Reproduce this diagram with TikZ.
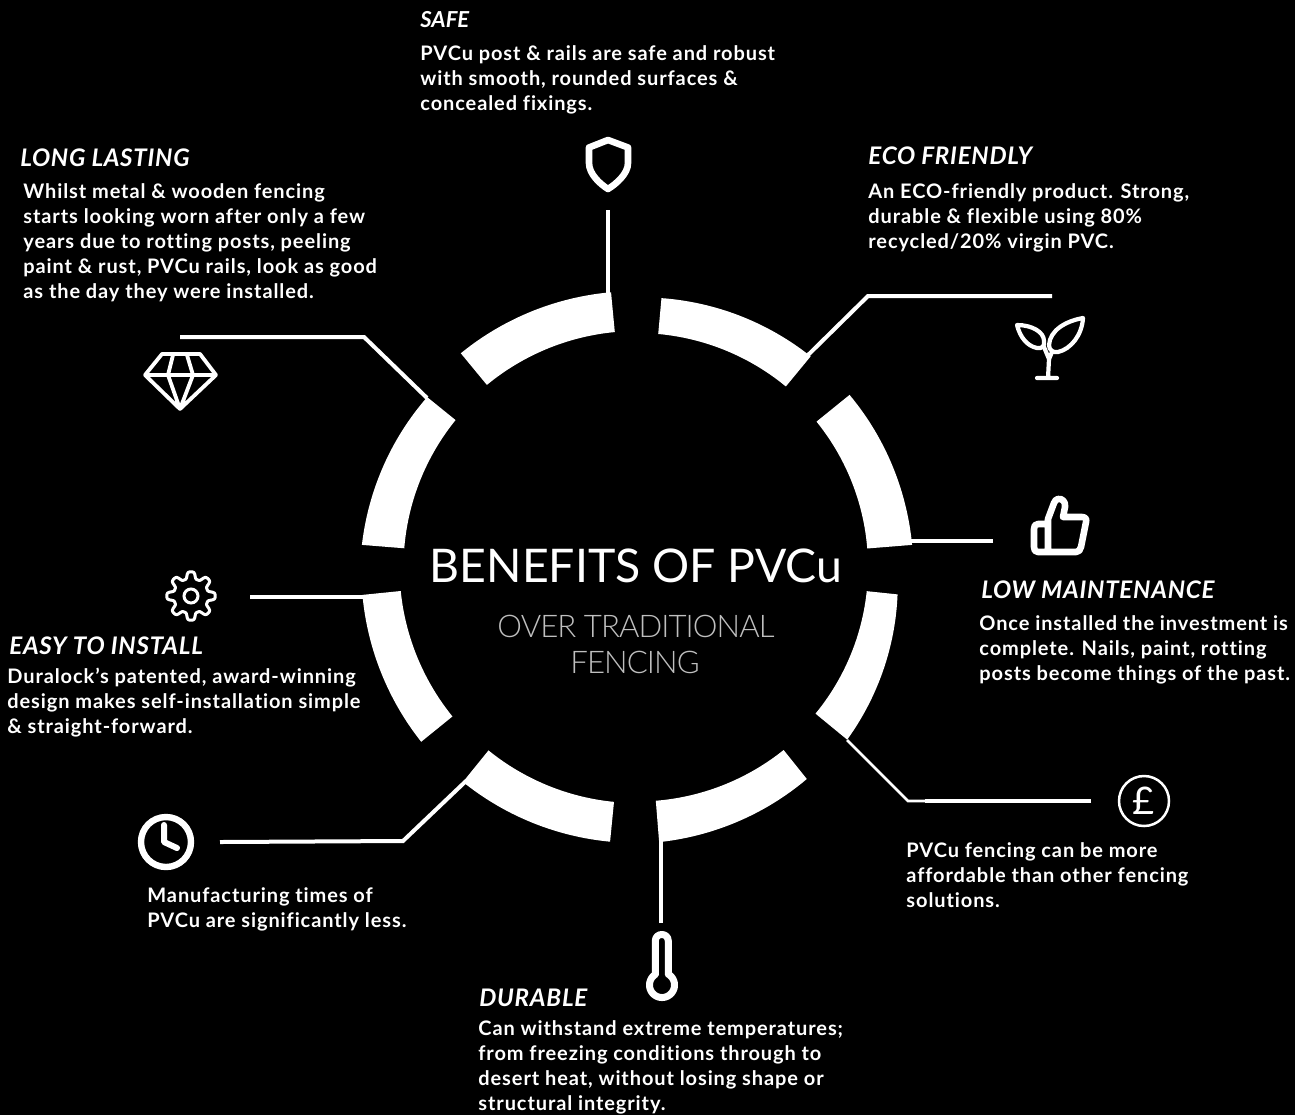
\documentclass[tikz,border=0pt]{standalone}
\usepackage{fontspec}
\setmainfont{Lato}
\newfontfamily\lightfont[LetterSpace=-3]{Lato Light}
\newfontfamily\bodyfont[LetterSpace=4.5,Ligatures=NoCommon]{Lato}
\newfontfamily\headfont[LetterSpace=3,Ligatures=NoCommon]{Lato}
\newcommand{\ringseg}[5]{%
  \fill[white] plot[domain=#1:#2,samples=40] ({637+(#3+(#4-#3)*(\x-#1)/(#2-#1))*cos(\x)},{567-(#3+(#4-#3)*(\x-#1)/(#2-#1))*sin(\x)})
   -- plot[domain=#2:#1,samples=40] ({637+#5*cos(\x)},{567-#5*sin(\x)}) -- cycle;}
\tikzset{
  link/.style={draw=white,line width=2pt,line join=miter},
  thinlink/.style={draw=white,line width=1.4pt},
  icon/.style={draw=white,line join=round,line cap=round},
  head/.style={text=white,inner sep=0pt,anchor=base west,font=\fontsize{12.1}{13}\selectfont\headfont\bfseries\itshape},
  body/.style={text=white,inner sep=0pt,anchor=north west,align=left,
    font=\fontsize{10}{12.5}\selectfont\bodyfont\bfseries,execute at begin node={\strut}},
  subt/.style={text=black!25!white,inner sep=0pt,anchor=base,font=\fontsize{15.6}{18}\selectfont\lightfont},
}
\begin{document}
\begin{tikzpicture}[x=0.5pt,y=-0.5pt]
\useasboundingbox[fill=black] (0,0) rectangle (1295,1115);
% ring
\ringseg{95.4}{129.5}{276}{277}{236}
\ringseg{50.5}{84.8}{273}{270}{234}
\ringseg{4.6}{39}{276}{273.5}{231}
\ringseg{-39.4}{-6}{272}{262}{231}
\ringseg{-85.4}{-51.3}{276}{271.6}{234.5}
\ringseg{231}{264.4}{276.6}{276}{236}
\ringseg{185.8}{219}{276}{277.7}{237.5}
\ringseg{141}{175.4}{270}{276}{233.5}
% connector points
\coordinate (safeA) at (608,210); \coordinate (safeB) at (608,294);
\coordinate (ecoA) at (1052,296); \coordinate (ecoB) at (868,296); \coordinate (ecoC) at (806,357);
\coordinate (lowA) at (993,541); \coordinate (lowB) at (908,541);
\coordinate (payA) at (1091,801); \coordinate (payB) at (925,801); \coordinate (payC) at (908,801); \coordinate (payD) at (847,740);
\coordinate (durA) at (661,923); \coordinate (durB) at (661,840);
\coordinate (timeA) at (220,842); \coordinate (timeB) at (403,841); \coordinate (timeC) at (466,781);
\coordinate (easyA) at (250,597); \coordinate (easyB) at (364,597);
\coordinate (longA) at (180,337); \coordinate (longB) at (364,337); \coordinate (longC) at (427,398);
\draw[link] (safeA) -- (safeB);
\draw[link] (ecoA) -- (ecoB) -- (ecoC);
\draw[link] (lowA) -- (lowB);
\draw[link] (payA) -- (payB);
\draw[thinlink] (payB) -- (payC) -- (payD);
\draw[link] (durA) -- (durB);
\draw[link] (timeA) -- (timeB) -- (timeC);
\draw[link] (easyA) -- (easyB);
\draw[link] (longA) -- (longB) -- (longC);
% shield
\draw[icon,line width=3.3pt] (608,140) -- (589,147.5) -- (589,163) .. controls (589,174) and (600,184) .. (608,189) .. controls (616,184) and (628,174) .. (628,163) -- (628,147.5) -- cycle;
% plant
\draw[icon,line width=2.1pt] (1037,378) -- (1057,378) (1048,378) -- (1049,359) -- (1044,347);
\draw[icon,line width=2.1pt] (1017,325) .. controls (1032,325) and (1044,332) .. (1044,341) .. controls (1045,346) and (1042,349) .. (1037,348) .. controls (1027,346) and (1020,337) .. (1017,325) -- cycle;
\draw[icon,line width=2.1pt] (1083,318) .. controls (1066,321) and (1050,330) .. (1049,345) .. controls (1049,350) and (1053,353) .. (1058,352) .. controls (1071,349) and (1082,335) .. (1083,318) -- cycle;
\draw[icon,line width=2.1pt] (1049,359) -- (1052,352);
% thumb
\draw[icon,line width=3.3pt] (1048,524) -- (1038,524) .. controls (1035,524) and (1034,526) .. (1034,529) -- (1034,547) .. controls (1034,550) and (1035,552) .. (1038,552) -- (1076,552) .. controls (1079,552) and (1080,550) .. (1081,547) -- (1086,522) .. controls (1087,519) and (1085,517) .. (1082,517) -- (1063,517) -- (1065,507) .. controls (1066,502) and (1062,498) .. (1058,499) .. controls (1056,499) and (1055,501) .. (1054,503) -- (1048,519) -- (1048,552);
% diamond
\draw[icon,line width=1.9pt] (162,354) -- (200,354) -- (216,375) -- (180,409) -- (145,375) -- cycle (145,375) -- (216,375) (173,355) -- (168,375) -- (180,409) -- (193,375) -- (187,355);
% gear
\draw[icon,line width=1.5pt] plot[domain=0:360,samples=145,smooth] ({191+(20.8+3.4*tanh(2*cos(8*\x))/0.964)*cos(\x+90)},{596-(20.8+3.4*tanh(2*cos(8*\x))/0.964)*sin(\x+90)}) -- cycle;
\node[draw=white,line width=1.5pt,circle,minimum size=7pt,inner sep=0pt] (gearHub) at (191,596) {};
% clock
\node[draw=white,line width=3.2pt,circle,minimum size=25pt,inner sep=0pt] (clockFace) at (166,842) {};
\draw[icon,line width=3pt] (164,825) -- (164,842) -- (177,848);
% thermometer
\draw[icon,line width=3.5pt] (668.3,974.3) -- (668.3,941) .. controls (668.3,932.3) and (655.3,932.3) .. (655.3,941) -- (655.3,974.3) -- plot[domain=122:418,samples=50] ({662+12.5*cos(\x)},{985-12.5*sin(\x)});
% pound
\node[draw=white,line width=1.25pt,circle,minimum size=25pt,inner sep=0pt,text=white,font=\fontsize{19}{20}\selectfont] (pound) at (1144,801) {£};
% centre
\node[text=white,inner sep=0pt,anchor=base,font=\fontsize{23.2}{26}\selectfont] (title) at (636,582) {BENEFITS OF PVCu};
\node[subt] (sub1) at (636,637) {OVER TRADITIONAL};
\node[subt] (sub2) at (635,673) {FENCING};
% texts
\node[head,font=\fontsize{11}{13}\selectfont\bfseries\itshape] (safeH) at (420,27) {SAFE};
\node[body] (safeT) at (420,45) {PVCu post \& rails are safe and robust\\with smooth, rounded surfaces \&\\concealed fixings.};
\node[head] (longH) at (20,166) {LONG LASTING};
\node[body] (longT) at (23,183) {Whilst metal \& wooden fencing\\starts looking worn after only a few\\years due to rotting posts, peeling\\paint \& rust, PVCu rails, look as good\\as the day they were installed.};
\node[head] (ecoH) at (868,164) {ECO FRIENDLY};
\node[body] (ecoT) at (868,183) {An ECO-friendly product. Strong,\\durable \& flexible using 80\%\\recycled/20\% virgin PVC.};
\node[head] (lowH) at (981,598) {LOW MAINTENANCE};
\node[body] (lowT) at (979,615) {Once installed the investment is\\complete. Nails, paint, rotting\\posts become things of the past.};
\node[body] (payT) at (906,842) {PVCu fencing can be more\\affordable than other fencing\\solutions.};
\node[head] (easyH) at (9,654) {EASY TO INSTALL};
\node[body] (easyT) at (7,668) {Duralock’s patented, award-winning\\design makes self-installation simple\\\& straight-forward.};
\node[body] (timeT) at (147,887) {Manufacturing times of\\PVCu are significantly less.};
\node[head] (durH) at (479,1006) {DURABLE};
\node[body] (durT) at (478,1020) {Can withstand extreme temperatures;\\from freezing conditions through to\\desert heat, without losing shape or\\structural integrity.};
\end{tikzpicture}
\end{document}
